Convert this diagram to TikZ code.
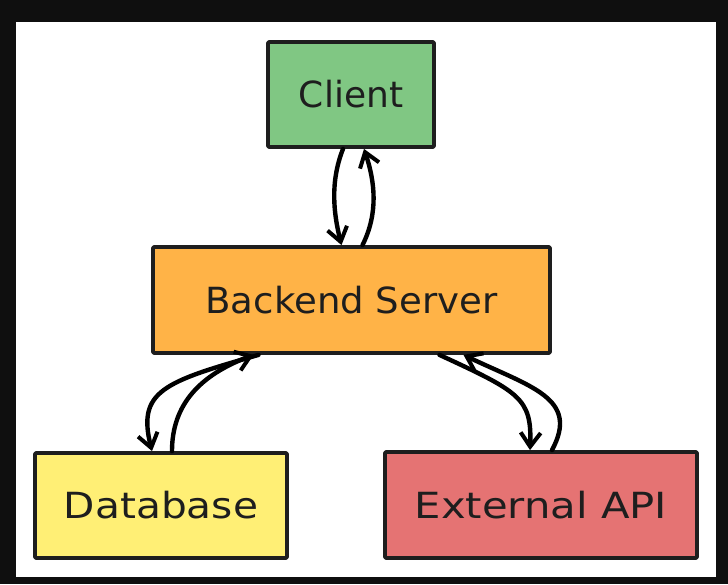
\documentclass[tikz,border=0pt]{standalone}
\usepackage{fontspec}
\setmainfont{DejaVu Sans}
\usetikzlibrary{arrows.meta}
\definecolor{frameblack}{HTML}{0F0F0F}
\definecolor{inkc}{HTML}{1E1E1E}
\definecolor{clientgreen}{HTML}{80C783}
\definecolor{backorange}{HTML}{FFB347}
\definecolor{dbyellow}{HTML}{FFEF75}
\definecolor{apired}{HTML}{E57373}
\tikzset{
  boxnode/.style={draw=inkc, line width=3.8pt, rounded corners=1pt, inner sep=0pt,
    text=inkc, font=\fontsize{36}{40}\selectfont, line join=round},
  conn/.style={draw=black, line width=4.4pt, line cap=round, line join=round,
    -{Straight Barb[length=14pt,width=20pt,line width=4pt]}}
}
\begin{document}
\begin{tikzpicture}[x=1pt,y=-1pt]
\useasboundingbox (0,0) rectangle (728,584);
\fill[frameblack] (0,0) rectangle (728,584);
\fill[white] (16,22) rectangle (716,577);

\node[boxnode, fill=clientgreen, minimum width=166pt, minimum height=105pt] (client) at (351,94.5) {Client};
\node[boxnode, fill=backorange, minimum width=397pt, minimum height=106pt] (backend) at (351.5,300) {\addfontfeature{FakeStretch=1.03}Backend Server};
\node[boxnode, fill=dbyellow, minimum width=252pt, minimum height=105pt] (db) at (161,505.5) {\addfontfeature{FakeStretch=1.13}Database};
\node[boxnode, fill=apired, minimum width=312pt, minimum height=106pt] (api) at (541,505) {\addfontfeature{FakeStretch=1.16}External API};

% Client <-> Backend
\draw[conn] ([xshift=-8pt]client.south) .. controls +(-13,33) and +(-8,-32) .. ([xshift=-10pt]backend.north);
\draw[conn] ([xshift=11pt]backend.north) .. controls +(16,-32) and +(11,33) .. ([xshift=13pt]client.south);

% Backend <-> Database
\draw[conn] ([xshift=-93pt]backend.south) .. controls +(-95,27) and +(-15,-60) .. ([xshift=-9pt]db.north);
\draw[conn] ([xshift=11pt]db.north) .. controls +(0,-47) and +(-53,20) .. ([xshift=-98pt]backend.south);

% Backend <-> External API
\draw[conn] ([xshift=88pt]backend.south) .. controls +(80,37) and +(2,-52) .. ([xshift=-11pt]api.north);
\draw[conn] ([xshift=11pt]api.north) .. controls +(28,-52) and +(67,32) .. ([xshift=112pt]backend.south);
\end{tikzpicture}
\end{document}
